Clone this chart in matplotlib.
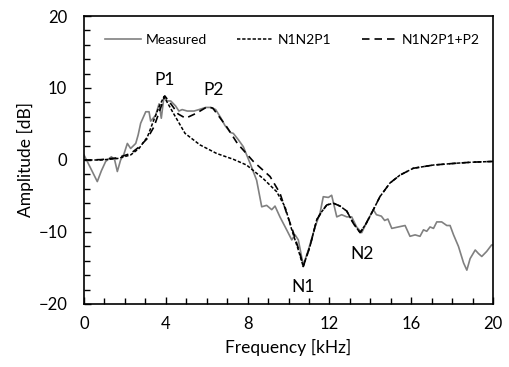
import matplotlib
matplotlib.use("Agg")
import matplotlib.pyplot as plt
from matplotlib.ticker import MultipleLocator

plt.rcParams['font.family'] = ['Lato', 'DejaVu Sans']

# measured response
meas_f = [0, 0.3, 0.65, 0.85, 1.06, 1.34, 1.5, 1.63, 1.79, 1.95, 2.12, 2.28, 2.53, 2.65,
          2.77, 3.02, 3.18, 3.26, 3.5, 3.67, 3.78, 3.91, 4.07, 4.24, 4.48, 4.64, 4.8, 5.05,
          5.38, 5.62, 5.95, 6.19, 6.44, 6.68, 6.89, 7.17, 7.3, 7.55, 7.79, 8.12, 8.44, 8.69,
          8.93, 9.18, 9.34, 9.58, 9.91, 10.16, 10.32, 10.48, 10.72, 10.97, 11.3, 11.54, 11.7,
          11.95, 12.11, 12.36, 12.6, 12.85, 13.09, 13.33, 13.58, 13.85, 14.15, 14.3, 14.54,
          14.7, 14.86, 15.05, 15.37, 15.7, 15.94, 16.19, 16.43, 16.6, 16.76, 16.92, 17.09,
          17.25, 17.49, 17.74, 17.9, 18.07, 18.31, 18.56, 18.72, 18.88, 19.13, 19.29, 19.45,
          19.69, 19.93, 20]
meas_db = [0.7, -1.0, -3.0, -1.5, -0.2, 0.45, 0.0, -1.6, 0.0, 0.8, 2.3, 1.6, 2.3, 3.5,
           5.1, 6.7, 6.7, 5.4, 6.2, 7.8, 5.8, 8.8, 8.2, 8.2, 7.5, 6.8, 7.0, 6.8,
           6.8, 7.0, 7.3, 7.3, 7.0, 5.9, 4.8, 3.8, 3.7, 2.8, 1.85, -0.45, -2.8, -6.5,
           -6.3, -6.9, -6.4, -7.9, -9.7, -11.1, -10.4, -11.1, -14.6, -12.5, -9.3, -7.4, -5.1,
           -5.2, -4.9, -7.9, -7.6, -7.9, -7.9, -9.3, -10.1, -8.5, -6.9, -7.6, -7.8,
           -8.4, -8.2, -9.5, -9.3, -9.1, -10.6, -10.4, -10.6, -9.7, -9.9, -9.3, -9.5,
           -8.6, -8.6, -9.1, -9.1, -10.4, -12.0, -14.3, -15.3, -13.7, -12.5, -13.0, -13.4,
           -12.7, -11.8, -11.8]

# model N1N2P1
m1_f = [0, 0.82, 1.63, 2.28, 2.69, 3.1, 3.42, 3.67, 3.91, 4.37, 4.94, 5.67, 6.49, 7.3,
        7.95, 8.77, 9.42, 9.83, 10.16, 10.48, 10.72, 11.05, 11.38, 11.62, 11.87, 12.19,
        12.52, 12.85, 13.17, 13.5, 13.8, 14.15, 14.47, 14.96, 15.45, 16.1, 17.08, 18.2,
        19.0, 20]
m1_db = [0, 0, 0.2, 0.7, 1.6, 3.2, 5.6, 7.4, 8.8, 6.5, 3.7, 2.1, 0.9, 0.1,
         -0.7, -2.6, -4.4, -6.5, -9.7, -12.5, -14.8, -12.0, -8.3, -7.2, -6.25, -6.0,
         -6.4, -7.1, -8.8, -10.1, -8.8, -6.9, -5.1, -3.2, -2.1, -1.15, -0.7, -0.45,
         -0.3, -0.2]

# model N1N2P1+P2
m2_f = [0, 0.82, 1.63, 2.28, 2.69, 3.1, 3.42, 3.67, 3.95, 4.3, 4.6, 4.97, 5.5, 6.03,
        6.3, 6.98, 7.5, 8.28, 9.1, 9.58, 9.91, 10.24, 10.56, 10.72, 11.05, 11.38, 11.62,
        11.87, 12.19, 12.52, 12.85, 13.17, 13.5, 13.8, 14.15, 14.47, 14.96, 15.45, 16.1,
        17.08, 18.2, 19.0, 20]
m2_db = [0, 0.05, 0.3, 0.9, 1.8, 3.0, 4.6, 6.6, 8.9, 7.6, 6.4, 5.8, 6.5, 7.4,
         7.2, 4.6, 2.3, -0.2, -2.3, -4.6, -7.4, -10.1, -13.0, -14.8, -12.0, -8.3, -7.2,
         -6.25, -6.0, -6.4, -7.1, -8.8, -10.1, -8.8, -6.9, -5.1, -3.2, -2.1, -1.15,
         -0.7, -0.45, -0.3, -0.2]

# peak / notch annotations
ann_text = ['P1', 'P2', 'N1', 'N2']
ann_f = [3.96, 6.32, 10.72, 13.58]
ann_db = [11.1, 9.7, -17.6, -13.0]

fig = plt.figure(figsize=(5.1, 3.67), dpi=100)
ax = fig.add_axes([0.1647, 0.1717, 0.802, 0.7847])

ax.plot(meas_f, meas_db, color='#808080', lw=1.2, label='Measured')
ax.plot(m1_f, m1_db, color='black', lw=1.1, dashes=(2.2, 1.2), label='N1N2P1')
ax.plot(m2_f, m2_db, color='black', lw=1.2, dashes=(4.5, 3), label='N1N2P1+P2')

for t, f, d in zip(ann_text, ann_f, ann_db):
    ax.text(f, d, t, ha='center', va='center', fontsize=12.5)

ax.set_xlim(0, 20)
ax.set_ylim(-20, 20)
ax.xaxis.set_major_locator(MultipleLocator(4))
ax.xaxis.set_minor_locator(MultipleLocator(1))
ax.yaxis.set_major_locator(MultipleLocator(10))
ax.yaxis.set_minor_locator(MultipleLocator(2))
ax.tick_params(which='both', direction='in', labelsize=12, width=1)
ax.tick_params(axis='x', which='both', pad=9)
ax.tick_params(axis='y', which='both', pad=12)
ax.tick_params(which='major', length=5)
ax.tick_params(which='minor', length=4)
for s in ax.spines.values():
    s.set_linewidth(1.2)

ax.set_xlabel('Frequency [kHz]', fontsize=12.5, labelpad=5)
ax.set_ylabel('Amplitude [dB]', fontsize=12.5, labelpad=3)

ax.legend(loc='upper center', ncol=3, frameon=False, fontsize=10,
          handlelength=2.6, columnspacing=2.2, handletextpad=0.3,
          bbox_to_anchor=(0.51, 0.98))

fig.savefig('out.png', dpi=100)
